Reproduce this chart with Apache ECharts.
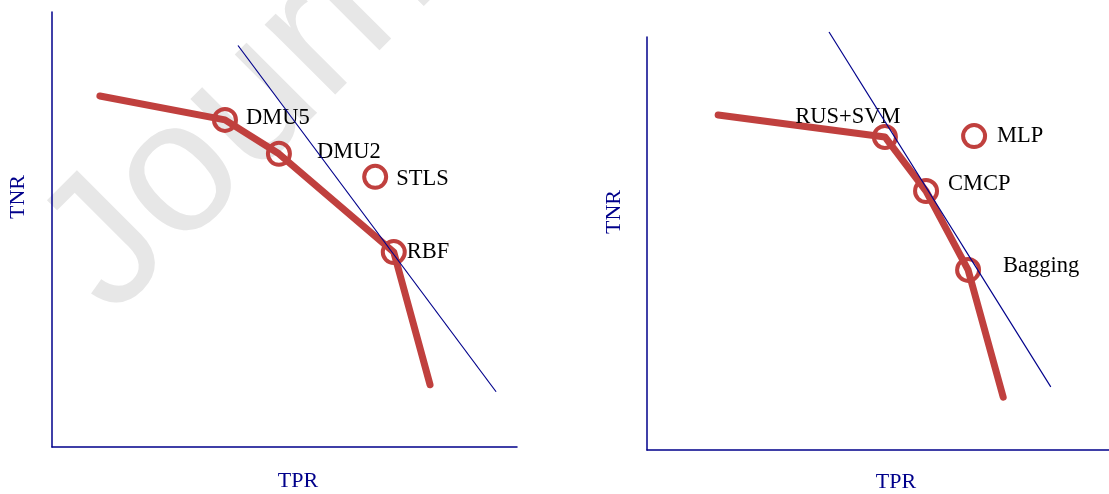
<!DOCTYPE html>
<html>
<head>
<meta charset="utf-8">
<script src="https://cdn.jsdelivr.net/npm/echarts@6/dist/echarts.min.js"></script>
<style>
  html, body { margin: 0; padding: 0; background: #fff; }
  #chart { width: 1109px; height: 494px; }
</style>
</head>
<body>
<div id="chart"></div>
<script>
// Left panel: efficient frontier (TPR, TNR), model points and supporting line
const leftFrontier = [[0.103, 0.807], [0.372, 0.752], [0.488, 0.674], [0.735, 0.448], [0.813, 0.143]];
const leftNames = ['DMU5', 'DMU2', 'STLS', 'RBF'];
const leftPoints = [[0.372, 0.752], [0.488, 0.674], [0.695, 0.621], [0.735, 0.448]];
const leftTangent = [[0.400, 0.923], [0.955, 0.127]];

// Right panel
const rightFrontier = [[0.154, 0.811], [0.515, 0.758], [0.604, 0.627], [0.695, 0.436], [0.771, 0.128]];
const rightNames = ['RUS+SVM', 'MLP', 'CMCP', 'Bagging'];
const rightPoints = [[0.515, 0.758], [0.708, 0.760], [0.604, 0.627], [0.695, 0.436]];
const rightTangent = [[0.394, 1.012], [0.874, 0.153]];

const axisTitles = { x: 'TPR', y: 'TNR' };

// label placement relative to each marker centre: [dx, dy, align]
const labelPlacement = {
  'DMU5': [21, -2, 'left'],
  'DMU2': [38, -2, 'left'],
  'STLS': [21, 2, 'left'],
  'RBF': [13, 0, 'left'],
  'RUS+SVM': [-37, -20, 'center'],
  'MLP': [23, 0, 'left'],
  'CMCP': [22, -7, 'left'],
  'Bagging': [35, -4, 'left']
};

const RED = '#C0403E';
const NAVY = '#00008B';
const SERIF = '"Liberation Serif", "Times New Roman", serif';

const chart = echarts.init(document.getElementById('chart'), null, { renderer: 'canvas' });

function axis(gridIndex) {
  return {
    type: 'value', gridIndex: gridIndex, min: 0, max: 1,
    axisLine: { show: true, onZero: false, lineStyle: { color: NAVY, width: 1.5 } },
    axisTick: { show: false }, axisLabel: { show: false }, splitLine: { show: false }
  };
}

function frontierSeries(idx, data) {
  return {
    type: 'line', xAxisIndex: idx, yAxisIndex: idx, data: data, z: 2,
    symbol: 'none', silent: true, clip: false,
    lineStyle: { color: RED, width: 7, cap: 'round', join: 'round' }
  };
}

function pointSeries(idx, names, pts) {
  return {
    type: 'scatter', xAxisIndex: idx, yAxisIndex: idx, z: 3, silent: true,
    symbol: 'circle', symbolSize: 22,
    itemStyle: { color: 'rgba(0,0,0,0)', borderColor: RED, borderWidth: 4, opacity: 1 },
    data: pts.map((p, i) => {
      const pl = labelPlacement[names[i]];
      return {
        value: p, name: names[i],
        label: {
          show: true, position: 'inside', formatter: names[i],
          align: pl[2], verticalAlign: 'middle', offset: [pl[0], pl[1]],
          color: '#000', fontFamily: SERIF, fontSize: 22.5
        }
      };
    })
  };
}

function tangentSeries(idx, data) {
  return {
    type: 'line', xAxisIndex: idx, yAxisIndex: idx, data: data, z: 5,
    symbol: 'none', silent: true, clip: false,
    lineStyle: { color: NAVY, width: 1.2 }
  };
}

function title(text, x, y, rot) {
  return {
    type: 'text', x: x, y: y, rotation: rot, z: 10,
    style: { text: text, x: 0, y: 0, align: 'center', verticalAlign: 'middle',
             fill: NAVY, font: '22px ' + SERIF }
  };
}

chart.setOption({
  animation: false,
  backgroundColor: '#fff',
  grid: [
    { left: 52, top: 12, width: 465, height: 435 },
    { left: 647, top: 37, width: 462, height: 413 }
  ],
  xAxis: [axis(0), axis(1)],
  yAxis: [axis(0), axis(1)],
  graphic: [
    {
      type: 'text', x: 75, y: 281.5, rotation: Math.PI / 4, z: -10, silent: true,
      style: { text: 'Journal Pre-proof', x: 0, y: 0, align: 'left', verticalAlign: 'middle',
               fill: '#e7e7e7', font: '188px "Liberation Sans", Arial, sans-serif' }
    },
    title(axisTitles.y, 18, 197, Math.PI / 2),
    title(axisTitles.x, 298, 481, 0),
    title(axisTitles.y, 614, 212, Math.PI / 2),
    title(axisTitles.x, 896, 482, 0)
  ],
  series: [
    frontierSeries(0, leftFrontier),
    pointSeries(0, leftNames, leftPoints),
    tangentSeries(0, leftTangent),
    frontierSeries(1, rightFrontier),
    pointSeries(1, rightNames, rightPoints),
    tangentSeries(1, rightTangent)
  ]
});
</script>
</body>
</html>
